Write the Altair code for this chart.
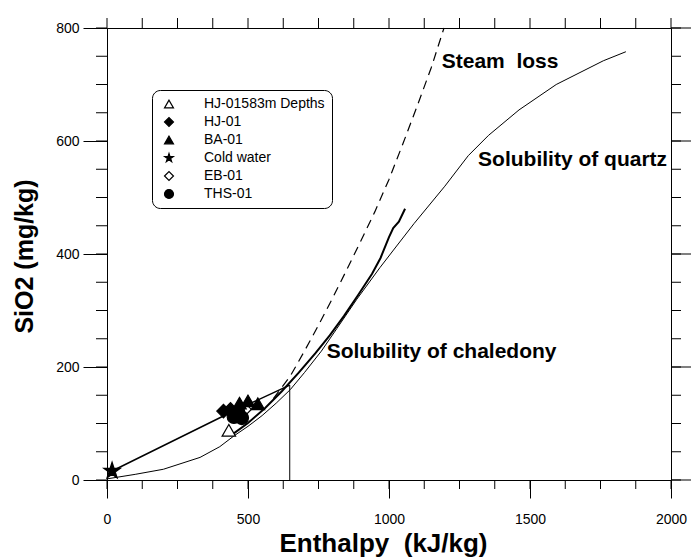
import altair as alt
import pandas as pd

# ---- sample series (legend order) ----
series_names = ["HJ-01583m Depths", "HJ-01", "BA-01", "Cold water", "EB-01", "THS-01"]
STAR = ("M0,-1L0.2245,-0.309L0.9511,-0.309L0.3633,0.118L0.5878,0.809L0,0.382"
        "L-0.5878,0.809L-0.3633,0.118L-0.9511,-0.309L-0.2245,-0.309Z")
series_shapes = ["triangle-up", "diamond", "triangle-up", STAR, "diamond", "circle"]
series_fills = ["white", "black", "black", "black", "white", "black"]
series_strokes = ["black"] * 6

# ---- measured samples: enthalpy (kJ/kg) and SiO2 (mg/kg) ----
sample_series = ["EB-01", "HJ-01583m Depths", "HJ-01", "HJ-01", "THS-01", "THS-01",
                 "THS-01", "BA-01", "BA-01", "BA-01"]
sample_enthalpy = [488, 432, 413, 438, 450, 478, 465, 470, 500, 535]
sample_sio2 = [125, 88, 122, 125, 112, 110, 120, 136, 140, 135]

cold_series = ["Cold water"]
cold_enthalpy = [18]
cold_sio2 = [16]

# ---- solubility of quartz ----
quartz_h = [0, 100, 200, 330, 400, 450, 500, 550, 600, 650, 700, 760, 815, 886,
            968, 1016, 1089, 1198, 1281, 1353, 1461, 1593, 1760, 1840]
quartz_si = [2, 10, 19, 40, 59, 78, 95, 114, 136, 160, 190, 228, 268, 320,
             376, 407, 454, 520, 574, 610, 655, 700, 742, 758]

# ---- solubility of chalcedony ----
chal_h = [440, 500, 560, 620, 680, 740, 790, 840, 890, 940, 970, 1000, 1015, 1035, 1057]
chal_si = [79, 101, 127, 157, 190, 225, 256, 290, 327, 365, 393, 430, 446, 457, 480]

# ---- steam loss ----
steam_h = [590, 650, 700, 750, 800, 850, 900, 950, 1000, 1050, 1100, 1150, 1195]
steam_si = [144, 184, 228, 274, 322, 372, 423, 475, 532, 596, 662, 730, 800]

# ---- mixing line and cut-off ----
mix_h = [18, 420, 648]
mix_si = [16, 115, 168]
cut_h = [648, 648]
cut_si = [0, 168]

# ---- curve labels ----
label_text = ["Steam \u00a0loss", "Solubility of quartz", "Solubility of chaledony"]
label_h = [1187, 1316, 779]
label_si = [739, 566, 227]

# ---- axis ticks ----
x_major = [0, 500, 1000, 1500, 2000]
x_minor = list(range(0, 2001, 125))
y_major = [0, 200, 400, 600, 800]
y_minor = list(range(0, 801, 50))

FONT = "Liberation Sans"
W, H = 564, 452

xscale = alt.Scale(domain=[0, 2000], nice=False, zero=False)
yscale = alt.Scale(domain=[0, 800], nice=False, zero=False)

x_bottom = alt.Axis(
    orient="bottom", values=x_major, format="d", tickSize=18,
    labelFont=FONT, labelFontSize=14, labelColor="black", labelPadding=14,
    labelOverlap=False, labelFlush=False,
    title="Enthalpy\u00a0 (kJ/kg)", titleFont=FONT, titleFontSize=26, titleFontWeight="bold",
    titleColor="black", titleBaseline="middle", titleY=63, titleX=276,
    domainColor="black", tickColor="black", grid=False,
)
y_left = alt.Axis(
    orient="left", values=y_major, format="d", tickSize=24,
    labelFont=FONT, labelFontSize=14, labelColor="black", labelPadding=4,
    labelOverlap=False, labelFlush=False,
    title="SiO2 (mg/kg)", titleFont=FONT, titleFontSize=25, titleFontWeight="bold",
    titleColor="black", titleAngle=-90, titleAlign="center", titleBaseline="middle",
    titleX=-83, titleY=228,
    domainColor="black", tickColor="black", grid=False,
)


def X(field, axis=None):
    return alt.X(field, scale=xscale, axis=axis) if axis else alt.X(field, scale=xscale)


def Y(field, axis=None):
    return alt.Y(field, scale=yscale, axis=axis) if axis else alt.Y(field, scale=yscale)


def curve(h, si, axis_x=None, axis_y=None, **mark):
    df = pd.DataFrame({"h": h, "si": si, "i": range(len(h))})
    return alt.Chart(df).mark_line(color="black", **mark).encode(
        x=X("h:Q", axis_x), y=Y("si:Q", axis_y), order="i:Q",
    )


quartz = curve(quartz_h, quartz_si, x_bottom, y_left, strokeWidth=1)
chalcedony = curve(chal_h, chal_si, strokeWidth=2)
steam = curve(steam_h, steam_si, strokeWidth=1.2, strokeDash=[9, 6])
mixing = curve(mix_h, mix_si, strokeWidth=1.5)
cutoff = curve(cut_h, cut_si, strokeWidth=1)


# ---- outward tick marks on the frame (minor ticks and the top/right sides) ----
def xticks(values, y0, y1):
    return alt.Chart(pd.DataFrame({"h": values})).mark_rule(
        color="black", strokeWidth=1, clip=False
    ).encode(x=X("h:Q"), y=alt.value(y0), y2=alt.value(y1))


def yticks(values, x0, x1):
    return alt.Chart(pd.DataFrame({"si": values})).mark_rule(
        color="black", strokeWidth=1, clip=False
    ).encode(y=Y("si:Q"), x=alt.value(x0), x2=alt.value(x1))


ticks = [
    xticks(x_minor, H, H + 9),      # bottom minor
    xticks(x_minor, 0, -10),        # top
    yticks(y_minor, 0, -11),        # left minor
    yticks(y_minor, W, W + 10),     # right minor
    yticks(y_major, W, W + 20),     # right major
]

legend = alt.Legend(
    orient="none", legendX=45, legendY=62, title=None,
    padding=7, cornerRadius=8, strokeColor="black", fillColor="white",
    symbolSize=80, symbolOffset=3, symbolStrokeWidth=1.2,
    labelFont=FONT, labelFontSize=14, labelColor="black", labelOffset=28, rowPadding=4,
)


def points(series, h, si, size):
    df = pd.DataFrame({"series": series, "h": h, "si": si})
    return alt.Chart(df).mark_point(filled=True, strokeWidth=1.2,
                                    size=size, opacity=1).encode(
        x=X("h:Q"),
        y=Y("si:Q"),
        shape=alt.Shape("series:N", scale=alt.Scale(domain=series_names, range=series_shapes),
                        legend=legend),
        fill=alt.Fill("series:N", scale=alt.Scale(domain=series_names, range=series_fills),
                      legend=legend),
        stroke=alt.Stroke("series:N", scale=alt.Scale(domain=series_names, range=series_strokes),
                          legend=legend),
    )


samples = points(sample_series, sample_enthalpy, sample_sio2, 180)
cold = points(cold_series, cold_enthalpy, cold_sio2, 300)

labels = alt.Chart(pd.DataFrame({"t": label_text, "h": label_h, "si": label_si})).mark_text(
    align="left", baseline="middle", font=FONT, fontSize=21, fontWeight="bold", color="black"
).encode(
    x=X("h:Q"),
    y=Y("si:Q"),
    text="t:N",
)

chart = alt.layer(
    quartz, chalcedony, steam, mixing, cutoff, *ticks, samples, cold, labels
).properties(
    width=W, height=H,
    autosize=alt.AutoSizeParams(type="none"),
    padding={"left": 107, "top": 28, "right": 21, "bottom": 79},
    background="white",
).configure_view(stroke="black", strokeWidth=1)

chart.save("out.html", embed_options={"renderer": "svg", "actions": False})
